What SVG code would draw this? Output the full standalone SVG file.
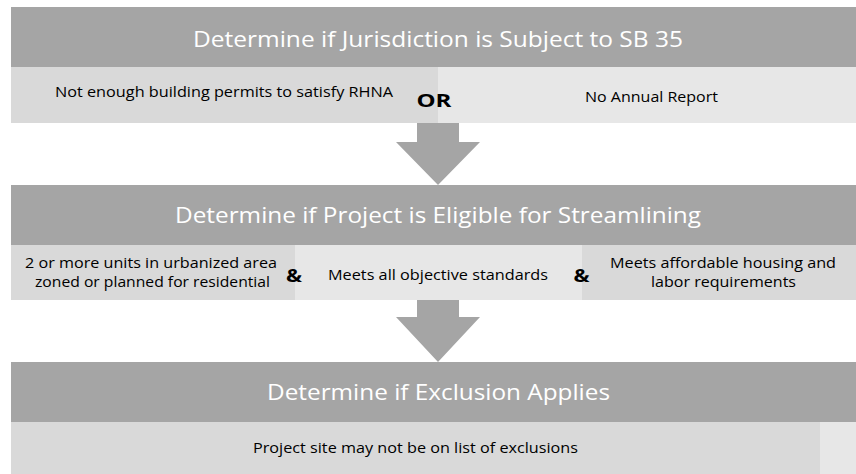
<svg xmlns="http://www.w3.org/2000/svg" width="856" height="474" viewBox="0 0 856 474">
  <style>
    .hdr { fill: #a5a5a5; }
    .cellA { fill: #d9d9d9; }
    .cellB { fill: #e7e7e7; }
    .arrow { fill: #a5a5a5; }
    .title { font-family: "Open Sans", "Liberation Sans", sans-serif; font-size: 21px; fill: #ffffff; text-anchor: middle; }
    .body { font-family: "Open Sans", "Liberation Sans", sans-serif; font-size: 15px; fill: #000000; text-anchor: middle; }
    .op { font-family: "Open Sans", "Liberation Sans", sans-serif; font-size: 18px; font-weight: bold; fill: #000000; text-anchor: middle; }
  </style>

  <rect width="856" height="474" fill="#ffffff"/>

  <!-- Step 1: jurisdiction check -->
  <g id="step-jurisdiction">
    <rect class="hdr" x="11" y="7" width="845" height="60"/>
    <text class="title" x="438" y="47" textLength="490" lengthAdjust="spacingAndGlyphs">Determine if Jurisdiction is Subject to SB 35</text>
  </g>
  <g id="cond-permits">
    <rect class="cellA" x="11" y="67" width="427" height="56"/>
    <text class="body" x="224" y="97" textLength="338" lengthAdjust="spacingAndGlyphs">Not enough building permits to satisfy RHNA</text>
  </g>
  <g id="cond-report">
    <rect class="cellB" x="438" y="67" width="418" height="56"/>
    <text class="body" x="651.5" y="101.5" textLength="133" lengthAdjust="spacingAndGlyphs">No Annual Report</text>
  </g>
  <text id="op-or" class="op" x="434" y="107" textLength="35" lengthAdjust="spacingAndGlyphs">OR</text>

  <!-- Step 2: project eligibility -->
  <g id="step-eligibility">
    <rect class="hdr" x="11" y="185" width="845" height="60"/>
    <text class="title" x="438" y="223" textLength="526" lengthAdjust="spacingAndGlyphs">Determine if Project is Eligible for Streamlining</text>
  </g>
  <g id="cond-units">
    <rect class="cellA" x="11" y="245" width="284" height="55"/>
    <text class="body" x="151" y="267.5" textLength="252" lengthAdjust="spacingAndGlyphs">2 or more units in urbanized area</text>
    <text class="body" x="152.5" y="287" textLength="235" lengthAdjust="spacingAndGlyphs">zoned or planned for residential</text>
  </g>
  <g id="cond-standards">
    <rect class="cellB" x="295" y="245" width="287" height="55"/>
    <text class="body" x="438" y="279.5" textLength="220" lengthAdjust="spacingAndGlyphs">Meets all objective standards</text>
  </g>
  <g id="cond-affordable">
    <rect class="cellA" x="582" y="245" width="274" height="55"/>
    <text class="body" x="723" y="267.5" textLength="226" lengthAdjust="spacingAndGlyphs">Meets affordable housing and</text>
    <text class="body" x="723.5" y="287" textLength="145" lengthAdjust="spacingAndGlyphs">labor requirements</text>
  </g>
  <text id="op-and-1" class="op" x="294" y="281.5" textLength="16" lengthAdjust="spacingAndGlyphs">&amp;</text>
  <text id="op-and-2" class="op" x="581.5" y="281.5" textLength="16" lengthAdjust="spacingAndGlyphs">&amp;</text>

  <!-- Step 3: exclusions -->
  <g id="step-exclusion">
    <rect class="hdr" x="11" y="362" width="845" height="60"/>
    <text class="title" x="438.5" y="400" textLength="343" lengthAdjust="spacingAndGlyphs">Determine if Exclusion Applies</text>
  </g>
  <g id="cond-exclusions">
    <rect class="cellA" x="11" y="422" width="809" height="52"/>
    <rect class="cellB" x="820" y="422" width="36" height="52"/>
    <text class="body" x="415.5" y="453" textLength="325" lengthAdjust="spacingAndGlyphs">Project site may not be on list of exclusions</text>
  </g>

  <!-- Block arrows between steps -->
  <g id="connectors">
    <polygon class="arrow" points="417,123 459,123 459,142 480,142 438,185 396,142 417,142"/>
    <polygon class="arrow" points="417,300 459,300 459,317 480,317 438,362 396,317 417,317"/>
  </g>
</svg>
